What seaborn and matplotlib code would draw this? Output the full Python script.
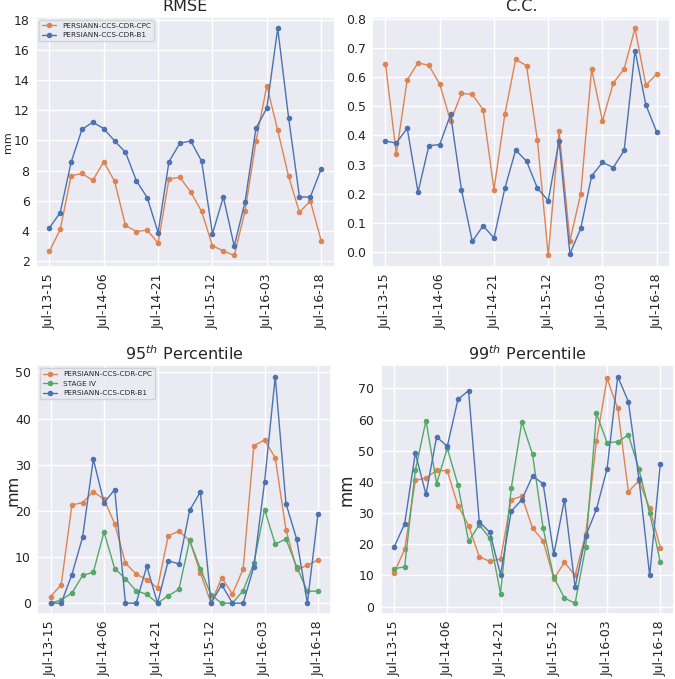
import numpy as np
import pandas as pd
import matplotlib
matplotlib.use("Agg")
import matplotlib.pyplot as plt
import seaborn as sns


# 3-hourly steps, Jul-13 15h to Jul-16 18h
steps = np.arange(26)
tick_pos = [0, 5, 10, 15, 20, 25]
tick_labels = ["Jul-13-15", "Jul-14-06", "Jul-14-21", "Jul-15-12", "Jul-16-03", "Jul-16-18"]

# RMSE (mm)
rmse_cpc = [2.64, 4.11, 7.66, 7.81, 7.35, 8.59, 7.29, 4.36, 3.96, 4.05, 3.19, 7.46, 7.55,
            6.58, 5.30, 3.01, 2.68, 2.37, 5.33, 9.95, 13.63, 10.68, 7.62, 5.24, 5.99, 3.34]
rmse_b1 = [4.20, 5.22, 8.56, 10.74, 11.21, 10.79, 9.97, 9.22, 7.33, 6.21, 3.89, 8.59, 9.82,
           9.97, 8.63, 3.81, 6.25, 2.99, 5.94, 10.81, 12.15, 17.44, 11.52, 6.25, 6.25, 8.12]

# correlation coefficient
cc_cpc = [0.645, 0.337, 0.590, 0.649, 0.640, 0.576, 0.449, 0.544, 0.541, 0.488, 0.215, 0.472, 0.661,
          0.639, 0.385, -0.011, 0.416, 0.040, 0.200, 0.628, 0.450, 0.580, 0.628, 0.767, 0.572, 0.611]
cc_b1 = [0.381, 0.374, 0.425, 0.206, 0.365, 0.369, 0.472, 0.215, 0.037, 0.091, 0.049, 0.219, 0.350,
         0.312, 0.220, 0.177, 0.381, -0.005, 0.082, 0.261, 0.308, 0.290, 0.349, 0.691, 0.505, 0.412]

# 95th percentile (mm)
p95_cpc = [1.4, 4.0, 21.3, 21.8, 24.2, 22.5, 17.2, 8.7, 6.3, 5.1, 3.3, 14.6, 15.6,
           13.6, 6.6, 0.0, 5.5, 2.0, 7.4, 34.1, 35.4, 31.5, 15.9, 7.3, 8.2, 9.4]
p95_st4 = [0.0, 0.7, 2.2, 6.0, 6.7, 15.4, 7.5, 5.3, 2.7, 1.9, 0.0, 1.6, 3.0,
           13.6, 7.5, 1.8, 0.0, 0.0, 2.7, 8.6, 20.3, 12.8, 13.9, 7.9, 2.6, 2.6]
p95_b1 = [0.0, 0.0, 6.2, 14.3, 31.2, 21.8, 24.6, 0.0, 0.0, 8.0, 0.0, 9.2, 8.5,
          20.1, 24.1, 0.0, 4.0, 0.0, 0.0, 7.9, 26.2, 49.1, 21.6, 13.9, 0.0, 19.4]

# 99th percentile (mm)
p99_cpc = [10.7, 18.4, 40.5, 41.3, 43.7, 43.6, 32.4, 26.0, 16.0, 14.5, 15.3, 34.3, 35.4,
           25.2, 21.1, 8.9, 14.2, 10.0, 23.4, 53.0, 73.2, 63.6, 36.9, 40.4, 31.5, 18.9]
p99_st4 = [12.1, 12.8, 43.7, 59.7, 39.5, 50.8, 39.1, 20.9, 26.3, 21.9, 4.2, 37.9, 59.3,
           48.9, 25.1, 9.4, 2.7, 1.1, 19.2, 62.0, 52.6, 52.9, 55.1, 44.0, 30.0, 14.3]
p99_b1 = [19.0, 26.6, 49.3, 36.0, 54.5, 51.4, 66.5, 69.3, 27.3, 23.8, 10.2, 30.6, 34.3,
          41.9, 39.4, 16.8, 34.3, 6.2, 22.7, 31.2, 44.2, 73.8, 65.8, 40.8, 10.0, 45.8]


sns.set_theme(style="darkgrid")
pal = sns.color_palette("deep")
c_cpc, c_st4, c_b1 = pal[1], pal[2], pal[0]

fig = plt.figure(figsize=(6.75, 6.79), dpi=100)
ax1 = fig.add_axes([0.053, 0.607, 0.443, 0.368])
ax2 = fig.add_axes([0.551, 0.607, 0.442, 0.368])
ax3 = fig.add_axes([0.055, 0.095, 0.436, 0.367])
ax4 = fig.add_axes([0.564, 0.095, 0.434, 0.367])

line_kw = dict(marker="o", markersize=4, markeredgewidth=0, linewidth=1)


def draw(ax, series, title, ylabel, ylabel_size, legend):
    for vals, name, col in series:
        sns.lineplot(x=steps, y=vals, ax=ax, color=col, label=name, **line_kw)
    ax.set_title(title, fontsize=11.5, pad=4)
    ax.set_ylabel(ylabel, fontsize=ylabel_size, labelpad=2)
    ax.set_xticks(tick_pos)
    ax.set_xticklabels(tick_labels, rotation=90)
    ax.tick_params(axis="both", labelsize=9, length=0, pad=4.5)
    if legend:
        ax.legend(loc="upper left", fontsize=5.2, frameon=True, borderaxespad=0.4)
    else:
        ax.get_legend().remove()


draw(ax1, [(rmse_cpc, "PERSIANN-CCS-CDR-CPC", c_cpc),
           (rmse_b1, "PERSIANN-CCS-CDR-B1", c_b1)], "RMSE", "mm", 8, True)
ax1.set_yticks([2, 4, 6, 8, 10, 12, 14, 16, 18])
ax1.yaxis.set_label_coords(-0.076, 0.5)

draw(ax2, [(cc_cpc, "PERSIANN-CCS-CDR-CPC", c_cpc),
           (cc_b1, "PERSIANN-CCS-CDR-B1", c_b1)], "C.C.", "", 9, False)

draw(ax3, [(p95_cpc, "PERSIANN-CCS-CDR-CPC", c_cpc),
           (p95_st4, "STAGE IV", c_st4),
           (p95_b1, "PERSIANN-CCS-CDR-B1", c_b1)], "95$^{th}$ Percentile", "mm", 11.5, True)
ax3.yaxis.set_label_coords(-0.058, 0.5)

draw(ax4, [(p99_cpc, "PERSIANN-CCS-CDR-CPC", c_cpc),
           (p99_st4, "STAGE IV", c_st4),
           (p99_b1, "PERSIANN-CCS-CDR-B1", c_b1)], "99$^{th}$ Percentile", "mm", 12, False)

fig.savefig("out.png", dpi=100)
